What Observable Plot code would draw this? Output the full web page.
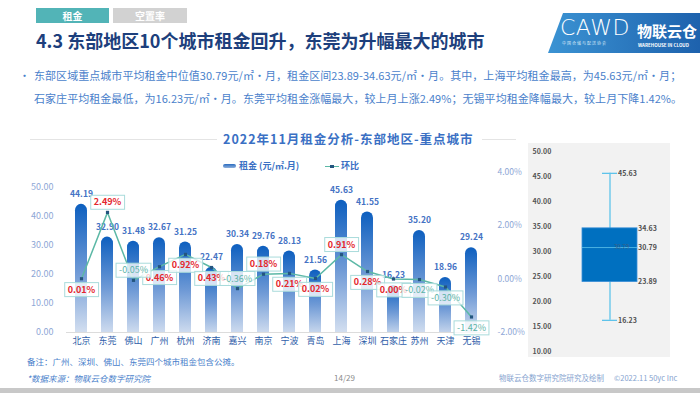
<!DOCTYPE html>
<html><head><meta charset="utf-8">
<script src="https://cdn.jsdelivr.net/npm/d3@7"></script>
<script src="https://cdn.jsdelivr.net/npm/@observablehq/plot@0.6"></script>
<style>
html,body{margin:0;padding:0;}
body{width:700px;height:393px;position:relative;overflow:hidden;background:#fff;font-family:"Noto Sans CJK SC","Noto Sans",sans-serif;}
.abs{position:absolute;white-space:nowrap;}
</style></head><body>

<div class="abs" style="left:36px;top:8px;width:73px;height:15px;background:#52b4b7;color:#fff;font-size:10px;font-weight:bold;text-align:center;line-height:15px;">租金</div>
<div class="abs" style="left:113px;top:8px;width:74px;height:15px;background:#d2d2d2;color:#fff;font-size:10px;font-weight:bold;text-align:center;line-height:15px;">空置率</div>
<div class="abs" style="left:36px;top:29px;font-size:18px;line-height:22px;font-weight:bold;color:#1d3f7c;">4.3 东部地区10个城市租金回升，东莞为升幅最大的城市</div>

<div class="abs" style="left:548px;top:13px;width:160px;height:40px;background:linear-gradient(90deg,#3b93d3,#1c5fab);clip-path:polygon(15px 0,100% 0,100% 100%,0 100%);"></div>
<div class="abs" style="left:560px;top:13px;font-size:22px;line-height:30px;color:#fff;font-family:'DejaVu Sans';font-weight:200;letter-spacing:0.5px;">CAWD</div>
<div class="abs" style="left:562px;top:40px;font-size:4px;color:#d8e8f8;letter-spacing:1px;">中国仓储与配送协会</div>
<div class="abs" style="left:637px;top:21px;font-size:15px;line-height:20px;color:#fff;font-weight:bold;">物联云仓</div>
<div class="abs" style="left:638px;top:42px;font-size:4.5px;color:#fff;font-weight:bold;">WAREHOUSE IN CLOUD</div>

<div class="abs" style="left:19px;top:66px;font-size:11px;line-height:18px;color:#4a7fcb;">•</div>
<div class="abs" style="left:34px;top:64px;font-size:11px;line-height:23px;color:#4a7fcb;letter-spacing:0.05px;">东部区域重点城市平均租金中位值30.79元/㎡·月，租金区间23.89-34.63元/㎡·月。其中，上海平均租金最高，为45.63元/㎡·月；<br>石家庄平均租金最低，为16.23元/㎡·月。东莞平均租金涨幅最大，较上月上涨2.49%；无锡平均租金降幅最大，较上月下降1.42%。</div>

<div class="abs" style="left:30px;top:139px;width:187px;height:1px;background:#e4e4e4;"></div>
<div class="abs" style="left:482px;top:139px;width:34px;height:1px;background:#e4e4e4;"></div>
<div class="abs" style="left:223px;top:130px;font-size:12.5px;line-height:17px;font-weight:bold;color:#3a70c4;letter-spacing:1px;">2022年11月租金分析-东部地区-重点城市</div>

<div class="abs" style="left:223px;top:164px;width:13px;height:4px;border-radius:2px;background:linear-gradient(180deg,#2a6cc0,#8fb0dc);"></div>
<div class="abs" style="left:239px;top:159px;font-size:9px;line-height:14px;font-weight:bold;color:#3a70c4;">租金 (元/㎡.月)</div>
<div class="abs" style="left:325px;top:165.5px;width:14px;height:1.5px;background:#5cb8a6;"></div>
<div class="abs" style="left:330px;top:164.5px;width:3.5px;height:3.5px;background:#24557f;"></div>
<div class="abs" style="left:341px;top:159px;font-size:9px;line-height:14px;font-weight:bold;color:#3a70c4;">环比</div>

<div class="abs" style="left:528px;top:143px;width:142px;height:214px;background:#f2f2f2;"></div>

<div id="main" class="abs" style="left:0;top:170px;"></div>
<div id="box" class="abs" style="left:528px;top:143px;"></div>

<div class="abs" style="left:27px;top:354px;font-size:8.5px;line-height:14px;color:#4a7fcb;">备注：广州、深圳、佛山、东莞四个城市租金包含公摊。</div>
<div class="abs" style="left:27px;top:371px;font-size:8.5px;line-height:14px;color:#4a7fcb;font-style:italic;">*数据来源：物联云仓数字研究院</div>
<div class="abs" style="left:334px;top:371px;font-size:8px;line-height:14px;color:#8a8a8a;">14/29</div>
<div class="abs" style="left:499px;top:371px;font-size:7.5px;line-height:14px;color:#86a3cf;">物联云仓数字研究院研究及绘制</div>
<div class="abs" style="left:614px;top:371px;font-size:7.5px;line-height:14px;color:#86a3cf;">©2022.11 50yc Inc</div>
<div class="abs" style="left:0;top:388px;width:700px;height:5px;background:#c8c8c8;"></div>

<script>
const cities = ["北京","东莞","佛山","广州","杭州","济南","嘉兴","南京","宁波","青岛","上海","深圳","石家庄","苏州","天津","无锡"];
const rent = [44.19,32.90,31.48,32.67,31.25,22.47,30.34,29.76,28.13,21.56,45.63,41.55,16.23,35.20,18.96,29.24];
const mom = [0.01,2.49,-0.05,0.46,0.92,0.43,-0.36,0.18,0.21,0.02,0.91,0.28,0.00,-0.02,-0.30,-1.42];
const labelSide = ["down","up","up","down","down","down","up","up","down","down","up","down","down","down","down","down"];
const leftTicks = [0,10,20,30,40,50];
const rightTicks = [-2,0,2,4];
const boxTicks = [10,15,20,25,30,35,40,45,50];
const boxKeys = ["min","q1","med","q3","max"];
const boxValues = [16.23,23.89,30.79,34.63,45.63];

const FONT = '"Noto Sans CJK SC","Noto Sans",sans-serif';
const rows = cities.map((c,i)=>({city:c, rent:rent[i], mom:mom[i], side:labelSide[i]}));
// secondary axis: -2%..4% mapped onto the rent axis (1% = 9.224 rent units)
const toLeft = p => (p + 2) * 9.224;

const RED = "#e4262c", TEAL = "#5db4a8";
const pctMark = (filter, opts) => Plot.text(rows.filter(filter), {
  x:"city", y:d=>toLeft(d.mom), text:d=>d.mom.toFixed(2)+"%", fontSize:9, ariaDescription:"pct", ...opts});

const chart = Plot.plot({
  width:530, height:190, marginLeft:66, marginRight:43, marginTop:17, marginBottom:28,
  x:{type:"band", domain:cities, paddingInner:0.52, paddingOuter:0.26, axis:null},
  y:{domain:[0,50], axis:null},
  style:{fontFamily:FONT, background:"transparent", overflow:"visible"},
  marks:[
    Plot.ruleY([0], {stroke:"#dcdcdc"}),
    Plot.barY(rows, {x:"city", y:"rent", fill:"url(#barGrad)", rx:6.3, insetBottom:-8, clip:true}),
    Plot.text(rows, {x:"city", y:"rent", text:d=>d.rent.toFixed(2), dy:-10, fill:"#4472c4", fontWeight:"bold", fontSize:8.5}),
    Plot.line(rows, {x:"city", y:d=>toLeft(d.mom), stroke:"#5cb8a6", strokeWidth:1.5}),
    Plot.dot(rows, {x:"city", y:d=>toLeft(d.mom), r:1.8, fill:"#24557f", symbol:"square"}),
    pctMark(d=>d.mom>=0 && d.side==="up", {fill:RED, fontWeight:"bold", dy:-10}),
    pctMark(d=>d.mom>=0 && d.side==="down", {fill:RED, fontWeight:"bold", dy:11}),
    pctMark(d=>d.mom<0 && d.side==="up", {fill:TEAL, dy:-10}),
    pctMark(d=>d.mom<0 && d.side==="down", {fill:TEAL, dy:11}),
    Plot.text(leftTicks, {y:d=>d, text:d=>d.toFixed(2), frameAnchor:"left", dx:-13, textAnchor:"end", fill:"#8ea7d6", fontSize:9}),
    Plot.text(rightTicks, {y:d=>toLeft(d), text:d=>d.toFixed(2)+"%", frameAnchor:"right", dx:10, textAnchor:"start", fill:"#8ea7d6", fontSize:8.5}),
    Plot.text(cities, {x:d=>d, frameAnchor:"bottom", dy:11, fill:"#2f5ea9", fontSize:9})
  ]
});
document.getElementById("main").append(chart);
const svg = d3.select(chart);
svg.insert("defs", ":first-child").html(
  '<linearGradient id="barGrad" x1="0" y1="0" x2="0" y2="1">' +
  '<stop offset="0" stop-color="#0d5fbf"/><stop offset="0.5" stop-color="#6f9ad6"/><stop offset="1" stop-color="#dfe7f3"/></linearGradient>');
svg.selectAll('g[aria-description="pct"] text').each(function(){
  const bb = this.getBBox();
  const t = this;
  d3.select(this.parentNode).insert("rect", () => t)
    .attr("x", bb.x-3).attr("y", bb.y).attr("width", bb.width+6).attr("height", bb.height+1)
    .attr("transform", this.getAttribute("transform"))
    .attr("fill","rgba(255,255,255,0.78)").attr("stroke","#a9dbdb").attr("stroke-width",1);
});

const boxRow = [Object.fromEntries([["region","东部地区"], ...boxKeys.map((k,i)=>[k, boxValues[i]])])];
const WH = "#5ec3ea";
const lbl = (key, dx) => Plot.text(boxRow, {x:"region", y:key, text:d=>d[key].toFixed(2), dx, textAnchor:"start", fill:"#505050", fontSize:7, fontWeight:"bold"});
const boxChart = Plot.plot({
  width:142, height:214, marginLeft:54, marginRight:33, marginTop:8, marginBottom:6,
  x:{type:"band", domain:["东部地区"], padding:0, axis:null},
  y:{domain:[10,50], axis:null},
  style:{fontFamily:FONT, background:"transparent", overflow:"visible"},
  marks:[
    Plot.text(boxTicks, {y:d=>d, text:d=>d.toFixed(2), frameAnchor:"left", dx:-50, textAnchor:"start", fill:"#555", fontSize:7, fontWeight:"bold"}),
    Plot.ruleX(boxRow, {x:"region", y1:"min", y2:"max", stroke:WH, strokeWidth:1.3}),
    Plot.tickY(boxRow, {x:"region", y:"min", stroke:WH, strokeWidth:1.3, insetLeft:20, insetRight:20}),
    Plot.tickY(boxRow, {x:"region", y:"max", stroke:WH, strokeWidth:1.3, insetLeft:20, insetRight:20}),
    Plot.barY(boxRow, {x:"region", y1:"q1", y2:"q3", fill:"#0070c0", stroke:"#3b8fd8", strokeWidth:0.8}),
    Plot.tickY(boxRow, {x:"region", y:"med", stroke:WH, strokeWidth:0.8}),
    Plot.text(boxRow, {x:"region", y:"med", text:d=>d.med.toFixed(2), dx:4, textAnchor:"start", fill:"#3f5f80", fontSize:6}),
    lbl("max", 8), lbl("min", 8), lbl("q3", 28), lbl("med", 28), lbl("q1", 28)
  ]
});
document.getElementById("box").append(boxChart);
</script>
</body></html>
